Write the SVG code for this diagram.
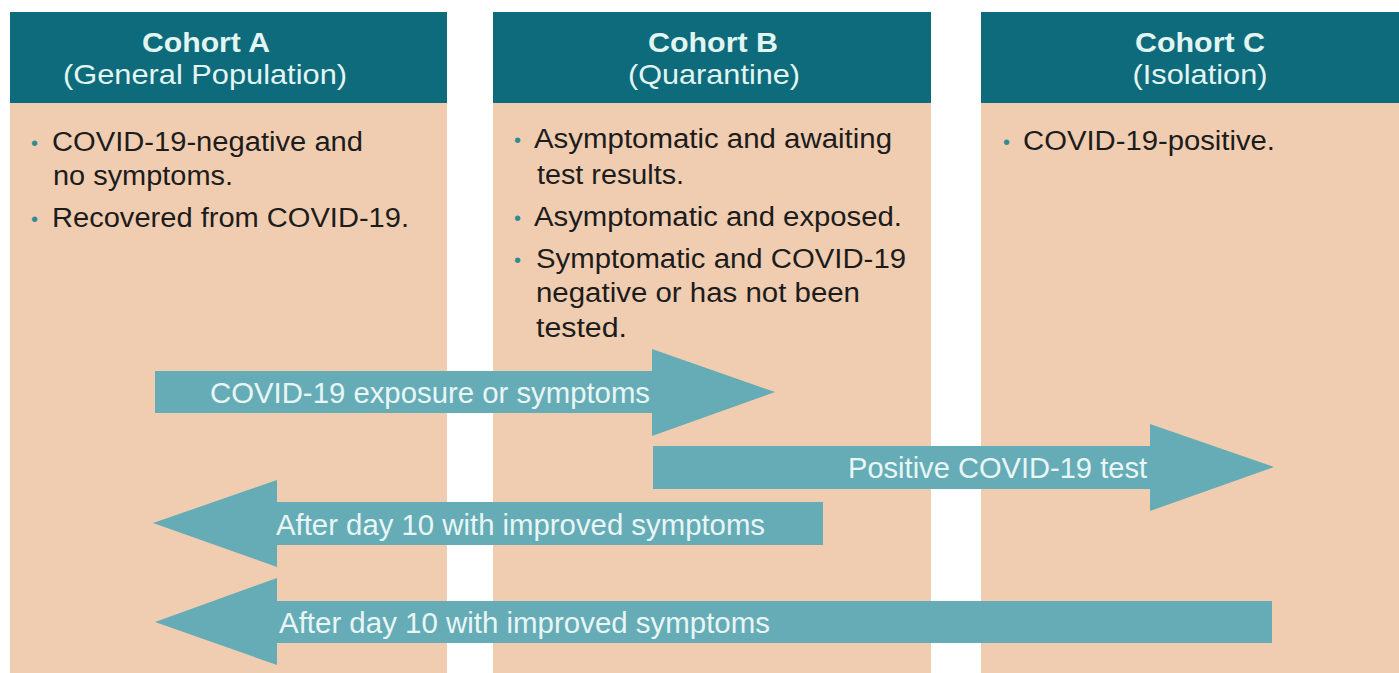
<svg xmlns="http://www.w3.org/2000/svg" width="1399" height="673" viewBox="0 0 1399 673">
  <style>
    .body { fill: #F0CDB0; }
    .head { fill: #0E6B7B; }
    .title { font-family: "Liberation Sans", Arial, sans-serif; font-weight: bold; font-size: 28px; fill: #E2F5F3; text-anchor: middle; }
    .sub { font-family: "Liberation Sans", Arial, sans-serif; font-size: 28px; fill: #E2F5F3; text-anchor: middle; }
    .item { font-family: "Liberation Sans", Arial, sans-serif; font-size: 27px; fill: #1C1C1C; }
    .dot { font-family: "Liberation Sans", Arial, sans-serif; font-size: 20px; fill: #2F8C93; }
    .arrow { fill: #66ACB7; }
    .lbl { font-family: "Liberation Sans", Arial, sans-serif; font-size: 30px; fill: #E8F6F5; }
  </style>
  <rect width="1399" height="673" fill="#FFFFFF"/>

  <!-- Cohort A -->
  <g id="cohort-a">
    <rect class="body" x="10" y="103" width="437" height="570"/>
    <rect class="head" x="10" y="12" width="437" height="91"/>
    <text class="title" x="206" y="52" textLength="128" lengthAdjust="spacingAndGlyphs">Cohort A</text>
    <text class="sub" x="205" y="84" textLength="284" lengthAdjust="spacingAndGlyphs">(General Population)</text>
    <text class="dot" x="31" y="150">•</text>
    <text class="item" x="52" y="151" textLength="311" lengthAdjust="spacingAndGlyphs">COVID-19-negative and</text>
    <text class="item" x="53" y="185" textLength="180" lengthAdjust="spacingAndGlyphs">no symptoms.</text>
    <text class="dot" x="31" y="226">•</text>
    <text class="item" x="52" y="227" textLength="357" lengthAdjust="spacingAndGlyphs">Recovered from COVID-19.</text>
  </g>

  <!-- Cohort B -->
  <g id="cohort-b">
    <rect class="body" x="493" y="103" width="438" height="570"/>
    <rect class="head" x="493" y="12" width="438" height="91"/>
    <text class="title" x="713" y="52" textLength="130" lengthAdjust="spacingAndGlyphs">Cohort B</text>
    <text class="sub" x="714" y="84" textLength="172" lengthAdjust="spacingAndGlyphs">(Quarantine)</text>
    <text class="dot" x="514" y="147">•</text>
    <text class="item" x="534" y="148" textLength="358" lengthAdjust="spacingAndGlyphs">Asymptomatic and awaiting</text>
    <text class="item" x="537" y="184" textLength="147" lengthAdjust="spacingAndGlyphs">test results.</text>
    <text class="dot" x="514" y="225">•</text>
    <text class="item" x="534" y="226" textLength="368" lengthAdjust="spacingAndGlyphs">Asymptomatic and exposed.</text>
    <text class="dot" x="514" y="267">•</text>
    <text class="item" x="536" y="268" textLength="370" lengthAdjust="spacingAndGlyphs">Symptomatic and COVID-19</text>
    <text class="item" x="536" y="302" textLength="324" lengthAdjust="spacingAndGlyphs">negative or has not been</text>
    <text class="item" x="536" y="337" textLength="91" lengthAdjust="spacingAndGlyphs">tested.</text>
  </g>

  <!-- Cohort C -->
  <g id="cohort-c">
    <rect class="body" x="981" y="103" width="418" height="570"/>
    <rect class="head" x="981" y="12" width="418" height="91"/>
    <text class="title" x="1200" y="52" textLength="130" lengthAdjust="spacingAndGlyphs">Cohort C</text>
    <text class="sub" x="1200" y="84" textLength="135" lengthAdjust="spacingAndGlyphs">(Isolation)</text>
    <text class="dot" x="1003" y="149">•</text>
    <text class="item" x="1023" y="150" textLength="252" lengthAdjust="spacingAndGlyphs">COVID-19-positive.</text>
  </g>

  <!-- Transitions between cohorts -->
  <g id="connectors">
    <g id="a-to-b">
      <polygon class="arrow" points="155,371 652,371 652,349 775,392 652,436 652,413 155,413"/>
      <text class="lbl" x="210" y="403" textLength="440" lengthAdjust="spacingAndGlyphs">COVID-19 exposure or symptoms</text>
    </g>
    <g id="b-to-c">
      <polygon class="arrow" points="653,446 1150,446 1150,424 1274,467 1150,511 1150,489 653,489"/>
      <text class="lbl" x="848" y="478" textLength="299" lengthAdjust="spacingAndGlyphs">Positive COVID-19 test</text>
    </g>
    <g id="b-to-a">
      <polygon class="arrow" points="153,523 277,480 277,502 823,502 823,545 277,545 277,567"/>
      <text class="lbl" x="276" y="535" textLength="489" lengthAdjust="spacingAndGlyphs">After day 10 with improved symptoms</text>
    </g>
    <g id="c-to-a">
      <polygon class="arrow" points="155,622 277,578 277,601 1272,601 1272,643 277,643 277,665"/>
      <text class="lbl" x="279" y="633" textLength="491" lengthAdjust="spacingAndGlyphs">After day 10 with improved symptoms</text>
    </g>
  </g>
</svg>
